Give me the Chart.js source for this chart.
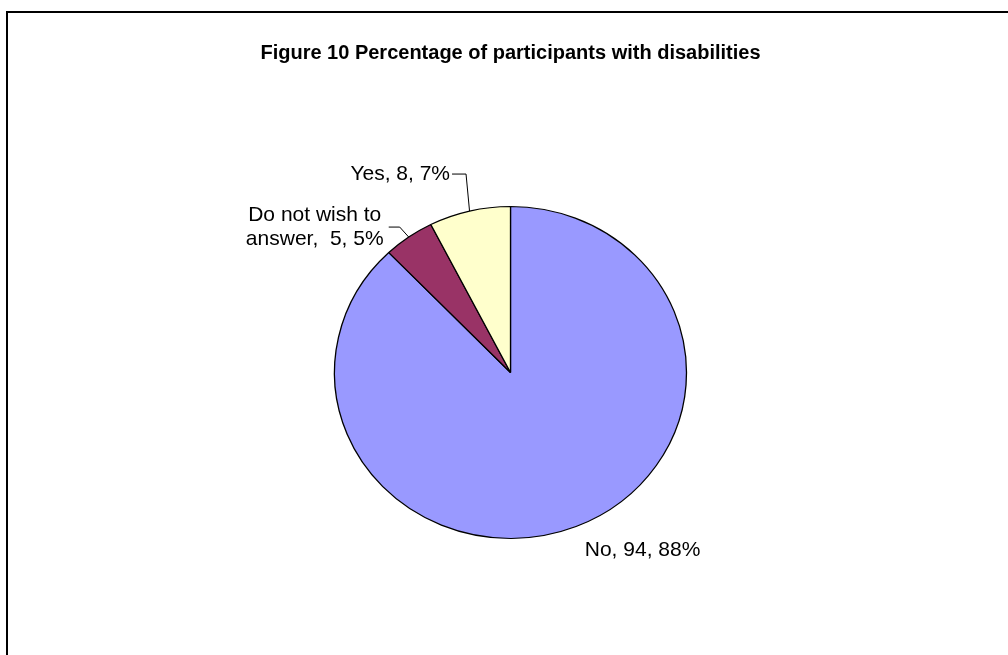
<!DOCTYPE html>
<html>
<head>
<meta charset="utf-8">
<script src="https://cdn.jsdelivr.net/npm/chart.js@4/dist/chart.umd.min.js"></script>
<style>
  html, body { margin: 0; padding: 0; background: #fff; }
  #wrap { width: 1008px; height: 655px; position: relative; }
</style>
</head>
<body>
<div id="wrap"><canvas id="c" width="1008" height="655"></canvas></div>
<script>
// ---- data ----
const titleText = 'Figure 10 Percentage of participants with disabilities';
const categories = ['No', 'Do not wish to answer', 'Yes'];
const counts = [94, 5, 8];
const colors = ['#9999FF', '#993366', '#FFFFCC'];

// ---- label layout (offsets from slice edge midpoint) ----
const labelLayout = [
  { dx: 66.5, dy: 29.5, align: 'center', leader: null, breakAt: null },
  { dx: -94, dy: -16, align: 'center', leader: [[-9, -10], [-20, -10]], breakAt: 14 },
  { dx: -19.5, dy: -31, align: 'right', leader: [[-3.5, -37], [-17.5, -37]], breakAt: null }
];
const yScale = 166 / 176;
const FONT = '"Liberation Sans", Arial, sans-serif';

const total = counts.reduce((a, b) => a + b, 0);

const piePlugin = {
  id: 'piePlugin',
  beforeDraw(chart) {
    const ctx = chart.ctx;
    ctx.save();
    ctx.fillStyle = '#fff';
    ctx.fillRect(0, 0, chart.width, chart.height);
    ctx.strokeStyle = '#000';
    ctx.lineWidth = 2;
    ctx.strokeRect(7, 12, chart.width + 20, chart.height + 20);
    ctx.restore();
  },
  beforeDatasetsDraw(chart) {
    const meta = chart.getDatasetMeta(0);
    const a = meta.data[0];
    const ctx = chart.ctx;
    ctx.save();
    ctx.translate(a.x, a.y);
    ctx.scale(1, yScale);
    ctx.translate(-a.x, -a.y);
  },
  afterDatasetsDraw(chart) {
    const ctx = chart.ctx;
    ctx.restore();
    const meta = chart.getDatasetMeta(0);
    ctx.save();
    ctx.font = '21px ' + FONT;
    ctx.fillStyle = '#000';
    ctx.strokeStyle = '#000';
    ctx.lineWidth = 1;
    meta.data.forEach((arc, i) => {
      const mid = (arc.startAngle + arc.endAngle) / 2;
      const R = arc.outerRadius;
      const ex = arc.x + R * Math.cos(mid);
      const ey = arc.y + R * yScale * Math.sin(mid);
      const L = labelLayout[i];
      if (L.leader) {
        ctx.beginPath();
        ctx.moveTo(ex, ey);
        L.leader.forEach(p => ctx.lineTo(ex + p[0], ey + p[1]));
        ctx.stroke();
      }
      const pct = Math.round(counts[i] / total * 100);
      const text = categories[i] + ', ' + counts[i] + ', ' + pct + '%';
      let lines = [text];
      if (L.breakAt) lines = [text.slice(0, L.breakAt), text.slice(L.breakAt + 1).replace(', ', ',  ')];
      ctx.textAlign = L.align;
      ctx.textBaseline = 'alphabetic';
      lines.forEach((ln, k) => ctx.fillText(ln, ex + L.dx, ey + L.dy + k * 24));
    });
    ctx.restore();
  }
};

new Chart(document.getElementById('c'), {
  type: 'pie',
  data: {
    labels: categories,
    datasets: [{
      data: counts,
      backgroundColor: colors,
      borderColor: '#000',
      borderWidth: 1.3,
      radius: 176
    }]
  },
  options: {
    responsive: false,
    animation: false,
    layout: { padding: { left: 13, right: 0, top: 0, bottom: 0 } },
    plugins: {
      legend: { display: false },
      tooltip: { enabled: false },
      title: {
        display: true,
        text: titleText,
        color: '#000',
        font: { family: FONT, size: 20, weight: 'bold', lineHeight: 1.2 },
        padding: { top: 41, bottom: 25 }
      }
    }
  },
  plugins: [piePlugin]
});
</script>
</body>
</html>
